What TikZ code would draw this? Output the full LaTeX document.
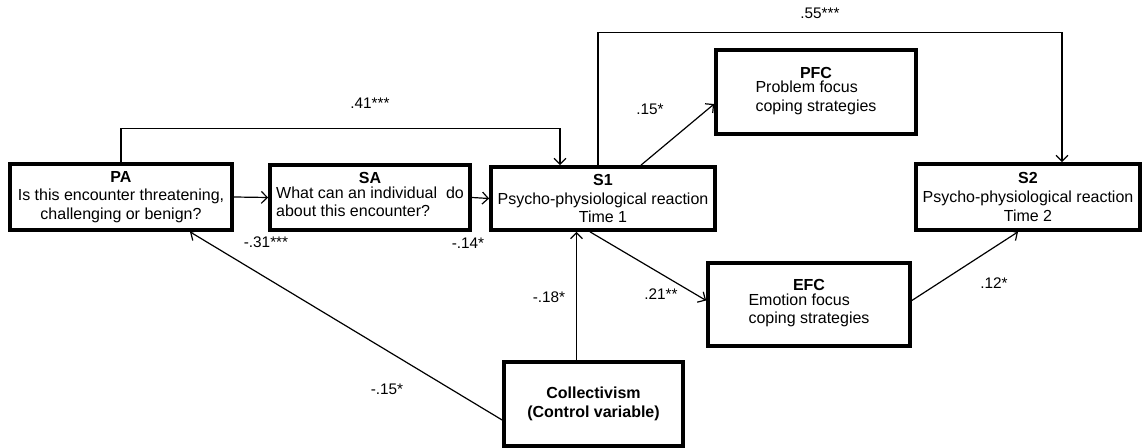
\documentclass[tikz,border=0pt]{standalone}
\usepackage{fontspec}
\setmainfont{Liberation Sans}
\usetikzlibrary{arrows.meta}
\usetikzlibrary{calc}
\usetikzlibrary{positioning}

\tikzset{
  box/.style = {draw, line width=2.8pt, align=center, inner sep=1pt,
                font=\fontsize{12}{14}\selectfont},
  path/.style = {-{Straight Barb[length=4.5pt, width=9pt]}, line width=0.9pt},
  coef/.style = {font=\fontsize{11.5}{13}\selectfont, inner sep=0pt},
}

\begin{document}
\begin{tikzpicture}[x=0.75pt, y=-0.75pt]
          \useasboundingbox (0,0) rectangle (1143,448);

          % boxes
          \node[box, minimum width=166.5pt, minimum height=49.5pt] (PA) at (121,197)
            {\textbf{PA}\\Is this encounter threatening,\\challenging or benign?};
          \node[box, minimum width=150pt, minimum height=48.75pt] (SA) at (370,197.5)
            {\textbf{SA}\\\begin{tabular}{@{}l@{}}What can an individual\ \ do\\about this encounter?\end{tabular}};
          \node[box, inner sep=0pt, minimum width=168pt, minimum height=47.25pt] (S1) at (603,198.5)
            {\textbf{S1}\\Psycho-physiological reaction\\Time 1};
          \node[box, minimum width=150pt, minimum height=63pt] (PFC) at (816,92)
            {\textbf{PFC}\\\begin{tabular}{@{}l@{}}Problem focus\\coping strategies\end{tabular}};
          \node[box, inner sep=0pt, minimum width=168pt, minimum height=49.5pt] (S2) at (1028,197)
            {\textbf{S2}\\Psycho-physiological reaction\\Time 2};
          \node[box, minimum width=151.5pt, minimum height=62.25pt] (EFC) at (809,304.5)
            {\textbf{EFC}\\\begin{tabular}{@{}l@{}}Emotion focus\\coping strategies\end{tabular}};
          \node[box, minimum width=134.25pt, minimum height=63pt] (Coll) at (593.5,404)
            {\textbf{Collectivism}\\\textbf{(Control variable)}};

          % paths
          \draw[path] (PA.east) -- (SA.west);
          \draw[path] (SA.east) -- (S1.west);
          \draw[path] (PA.north) -- ++(0,-34) -| ($(S1.north)+(-43,0)$);
          \draw[path] ($(S1.north)+(-5,0)$) -- ++(0,-133) -| ($(S2.north)+(34,0)$);
          \draw[path] ($(S1.north)+(38,0)$) -- ($(PFC.west)+(0,12)$);
          \draw[path] ($(S1.south)+(-13,0)$) -- ($(EFC.west)+(0,-4)$);
          \draw[path] ($(EFC.east)+(0,-4)$) -- ($(S2.south)+(-10,0)$);
          \draw[path] ($(Coll.north)+(-17,0)$) coordinate (c1) -- (c1 |- S1.south);
          \draw[path] ($(Coll.west)+(0,16)$) -- ($(PA.south)+(69,0)$);

          % coefficients
          \node[coef] (l41) at (370,103) {.41***};
          \node[coef] (l55) at (820,13) {.55***};
          \node[coef] (l15) at (650,109) {.15*};
          \node[coef] (l31) at (266,242) {-.31***};
          \node[coef] (l14) at (468,243) {-.14*};
          \node[coef] (l18) at (549,297) {-.18*};
          \node[coef] (l21) at (661,294) {.21**};
          \node[coef] (l12) at (994,283) {.12*};
          \node[coef] (l15b) at (387,389) {-.15*};
        \end{tikzpicture}
\end{document}
